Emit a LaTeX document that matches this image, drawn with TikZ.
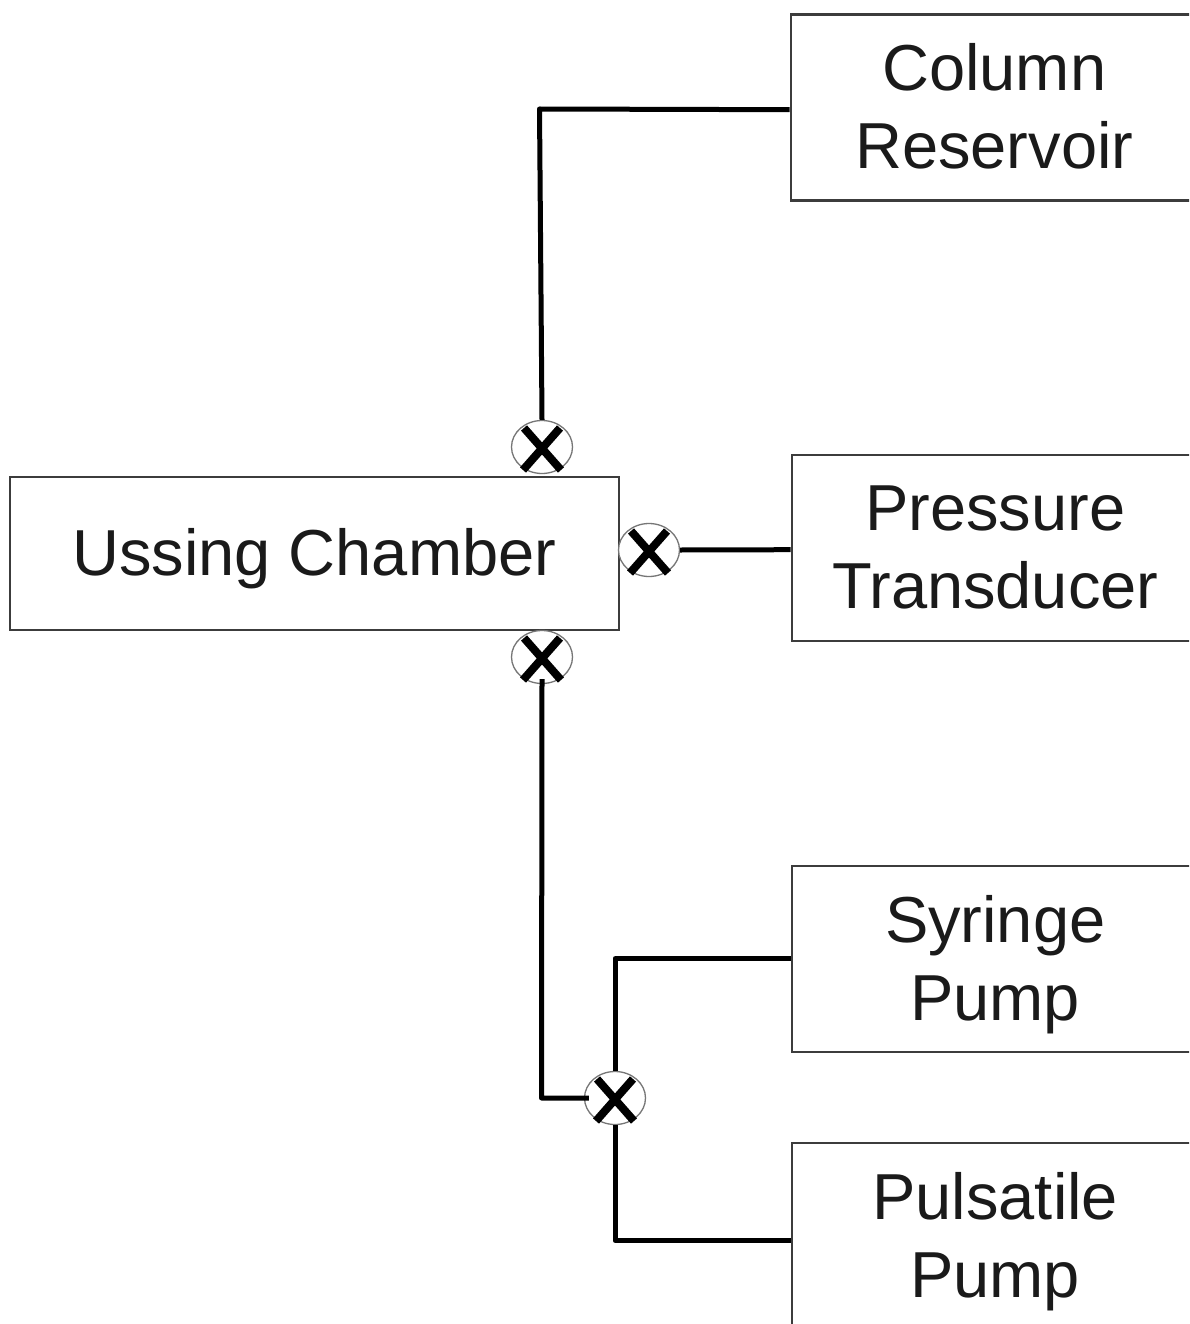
\documentclass[tikz,border=0pt]{standalone}
\usepackage{fontspec}
\setmainfont{Liberation Sans}
\usetikzlibrary{calc}
\usetikzlibrary{shapes.geometric}
\definecolor{ink}{HTML}{1A1A1A}
\newcommand{\moved}[2]{\raisebox{#1}[\height][\depth]{\begin{tabular}{@{}c@{}}#2\end{tabular}}}
\tikzset{
  x=1pt,y=-1pt,
  blockbox/.style={draw=ink!85,line width=2.4pt,fill=white,minimum width=407pt,minimum height=186pt,
    inner sep=0pt,text=ink,font=\fontsize{65}{78.5}\selectfont},
  valve/.style={ellipse,draw=ink!60,line width=1.3pt,fill=white,minimum width=61pt,minimum height=53pt,inner sep=0pt},
  xmark/.style={black,line width=8pt},
  pipe/.style={black,line width=5pt,line join=round},
}
\begin{document}
\begin{tikzpicture}
\useasboundingbox (0,0) rectangle (1189,1324);
\clip (0,0) rectangle (1189,1324);
\fill[white] (0,0) rectangle (1189,1324);
\node[blockbox,anchor=north west] (col) at (789.5,13.5) {\moved{-6pt}{Column\\Reservoir}};
\node[blockbox,anchor=north west] (pre) at (790.5,453.5) {\moved{-6pt}{Pressure\\Transducer}};
\node[blockbox,anchor=north west] (syr) at (790.5,864.5) {\moved{-7pt}{Syringe\\Pump}};
\node[blockbox,anchor=north west] (pul) at (790.5,1141.5) {\moved{-7pt}{Pulsatile\\Pump}};
\node[blockbox,anchor=north west,minimum width=609pt,minimum height=153pt] (ush) at (8.5,475.5) {\moved{-7pt}{Ussing Chamber}};
\node[valve] (v1) at (542,447) {};
\node[valve] (v2) at (649,550) {};
\node[valve] (v3) at (542,657) {};
\node[valve] (v4) at (615,1098) {};
\foreach \v in {v1,v2,v3,v4}{
  \draw[xmark] ($(\v)+(-18,-19)$) -- ($(\v)+(19,23)$);
  \draw[xmark] ($(\v)+(18,-19)$) -- ($(\v)+(-19,23)$);
}
\coordinate (c1) at (539.5,109);
\coordinate (c2) at (541.5,1098);
\draw[pipe] ([yshift=-2pt]col.west) -- (c1) -- (v1.north);
\draw[pipe] ([yshift=-2pt]pre.west) -- (v2.east);
\draw[pipe] ([yshift=5pt]v3.south) -- (c2) -- ([xshift=5pt]v4.west);
\draw[pipe] (syr.west) -| (v4.north);
\draw[pipe] ([yshift=-5pt]pul.west) -| (v4.south);
\end{tikzpicture}
\end{document}
